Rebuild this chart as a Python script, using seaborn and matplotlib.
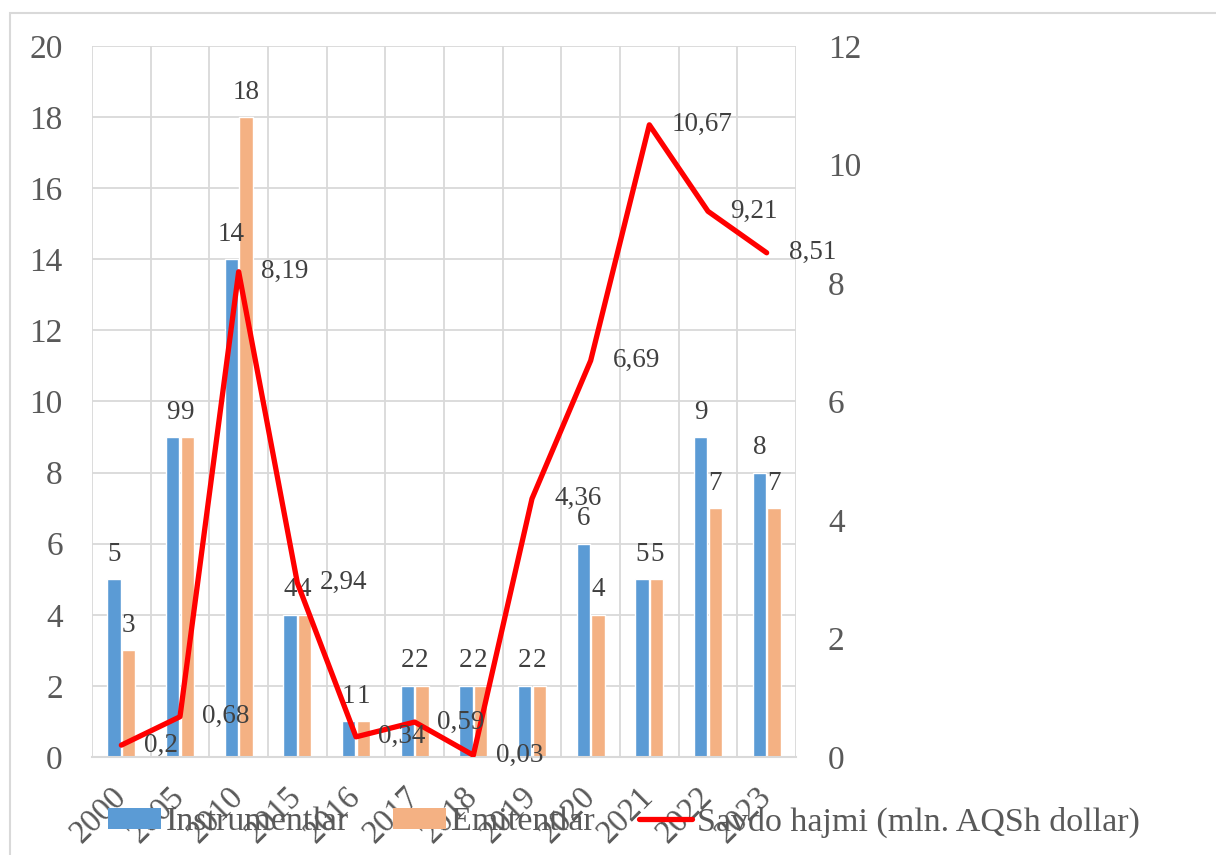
import numpy as np
import pandas as pd
import matplotlib
matplotlib.use('Agg')
import matplotlib.pyplot as plt
import seaborn as sns
from matplotlib.patches import Rectangle, Patch
from matplotlib.lines import Line2D

# data
years = ['2000', '2005', '2010', '2015', '2016', '2017', '2018', '2019', '2020', '2021', '2022', '2023']
instrumentlar = [5, 9, 14, 4, 1, 2, 2, 2, 6, 5, 9, 8]
emitentlar = [3, 9, 18, 4, 1, 2, 2, 2, 4, 5, 7, 7]
savdo = [0.2, 0.68, 8.19, 2.94, 0.34, 0.59, 0.03, 4.36, 6.69, 10.67, 9.21, 8.51]

blue = '#5B9BD5'
orange = '#F4B183'
grid_c = '#D9D9D9'
txt_c = '#595959'
lab_c = '#404040'

sns.set_theme(style='white')
plt.rcParams['font.family'] = ['Liberation Serif', 'DejaVu Serif']

df = pd.DataFrame({
    'yil': years * 2,
    'soni': instrumentlar + emitentlar,
    'tur': ['Instrumentlar'] * len(years) + ['Emitentlar'] * len(years),
})

W, H = 1216, 855
fig = plt.figure(figsize=(W / 100, H / 100), dpi=100)
ax = fig.add_axes([92 / W, 1 - 757 / H, (796 - 92) / W, (757 - 46) / H])

sns.barplot(data=df, x='yil', y='soni', hue='tur', palette=[blue, orange],
            width=0.5, gap=0.1, saturation=1, legend=False, ax=ax)

ax.set_xlim(-0.5, len(years) - 0.5)
ax.set_ylim(0, 20)
ax.set_yticks(range(0, 21, 2))
ax.set_xticks(np.arange(-0.5, len(years), 1), minor=True)
ax.yaxis.grid(True, color=grid_c, lw=1.3)
ax.xaxis.grid(True, which='minor', color=grid_c, lw=1.3)
ax.xaxis.grid(False, which='major')
ax.set_axisbelow(True)
for s in ['top', 'right', 'left']:
    ax.spines[s].set_visible(False)
ax.spines['bottom'].set_color(grid_c)
ax.spines['bottom'].set_linewidth(1.5)
ax.set_xlabel('')
ax.set_ylabel('')
ax.tick_params(axis='y', length=0, pad=21, labelsize=24, labelcolor=txt_c)
ax.tick_params(axis='x', which='both', length=0, pad=25, labelsize=23.5, labelcolor=txt_c)
for t in ax.get_xticklabels():
    t.set_rotation(45)
    t.set_ha('right')
    t.set_va('center')
    t.set_rotation_mode('anchor')

for cont in ax.containers:
    ax.bar_label(cont, padding=9, fontsize=19.5, color=lab_c)

# secondary axis: trade volume
ax2 = ax.twinx()
xpos = np.arange(len(years))
sns.lineplot(x=xpos, y=savdo, color='#FF0000', lw=3.8, ax=ax2,
             solid_capstyle='round', solid_joinstyle='round')
ax2.set_ylim(0, 12)
ax2.set_yticks(range(0, 13, 2))
ax2.set_ylabel('')
for s in ax2.spines.values():
    s.set_visible(False)
ax2.tick_params(axis='y', length=0, pad=23, labelsize=24, labelcolor=txt_c)
ax2.grid(False)
for x, v in zip(xpos, savdo):
    ax2.annotate(f'{v:g}'.replace('.', ','), (x, v), xytext=(16, 0),
                 textcoords='offset points', ha='left', va='center',
                 fontsize=19.5, color=lab_c)

# outer chart frame
fig.add_artist(Rectangle((10 / W, -0.1), 1.2, 1 - 13 / H + 0.1,
                         transform=fig.transFigure, fill=False,
                         ec=grid_c, lw=1.5))

handles = [Patch(fc=blue, ec='none'), Patch(fc=orange, ec='none'),
           Line2D([], [], color='#FF0000', lw=3.8, solid_capstyle='round')]
labels = ['Instrumentlar', 'Emitentlar', 'Savdo hajmi (mln. AQSh dollar)']
fig.legend(handles, labels, loc='center', bbox_to_anchor=(0.513, 0.0386), ncol=3,
           frameon=False, fontsize=24.5, handlelength=1.55, handleheight=0.55,
           handletextpad=0.15, columnspacing=1.3, labelcolor=txt_c,
           borderaxespad=0)

fig.savefig('out.png', dpi=100)
